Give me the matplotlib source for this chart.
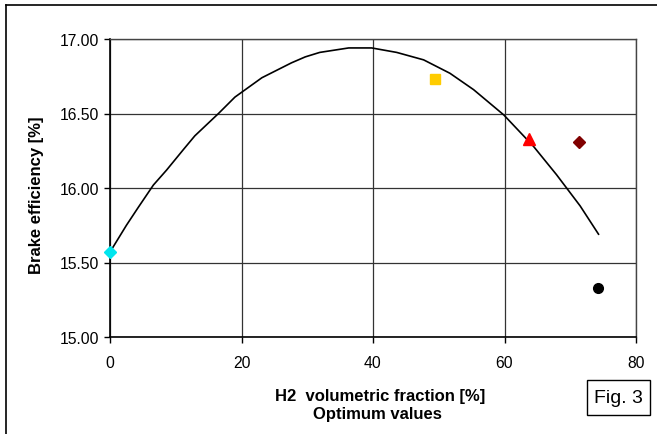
import matplotlib
matplotlib.use("Agg")
import matplotlib.pyplot as plt
from matplotlib.lines import Line2D
from matplotlib.patches import Rectangle

plt.rcParams['font.family'] = ['Liberation Sans', 'DejaVu Sans']

# Curve: brake efficiency vs H2 volumetric fraction
curve_x = [0, 2.5, 4.3, 6.6, 8.6, 11.2, 12.9, 16.5, 19.0, 23.1, 27.6, 29.7, 31.9,
           36.3, 39.8, 43.6, 47.7, 51.7, 55.3, 59.9, 64.4, 67.9, 71.5, 74.3]
curve_y = [15.57, 15.75, 15.87, 16.02, 16.12, 16.26, 16.35, 16.50, 16.61, 16.74, 16.84,
           16.88, 16.91, 16.94, 16.94, 16.91, 16.86, 16.77, 16.66, 16.49, 16.28, 16.09,
           15.88, 15.69]

# Optimum points
pt_x = [0, 49.5, 63.8, 71.3, 74.2]
pt_y = [15.57, 16.73, 16.33, 16.31, 15.33]
pt_colors = ['#00E5EE', '#FFCC00', '#FF0000', '#800000', '#000000']
pt_markers = ['D', 's', '^', 'D', 'o']
pt_sizes = [6, 7, 8, 6, 7]

xticks = [0, 20, 40, 60, 80]
yticks = [15.00, 15.50, 16.00, 16.50, 17.00]

fig = plt.figure(figsize=(6.57, 4.35), dpi=100)
ax = fig.add_axes([110/657, 1-338/435, 526/657, 298/435])

ax.plot(curve_x, curve_y, color='black', lw=1.2, zorder=3)
for x, y, c, m, s in zip(pt_x, pt_y, pt_colors, pt_markers, pt_sizes):
    ax.plot([x], [y], marker=m, color=c, markersize=s, linestyle='none', zorder=4,
            clip_on=False)

ax.set_xlim(0, 80)
ax.set_ylim(15.0, 17.0)
ax.set_xticks(xticks)
ax.set_yticks(yticks)
ax.set_yticklabels([f"{v:.2f}" for v in yticks])
ax.grid(True, color='#333333', lw=0.9)
ax.set_axisbelow(True)
ax.tick_params(direction='out', length=4, width=1, labelsize=11.3, colors='black')
ax.tick_params(axis='x', pad=9)
ax.tick_params(axis='y', pad=4)
for s in ['left', 'bottom']:
    ax.spines[s].set_color('black')
    ax.spines[s].set_linewidth(1.2)
for s in ['top', 'right']:
    ax.spines[s].set_color('#444444')
    ax.spines[s].set_linewidth(1.0)

fig.text(37/657, 1-195/435, 'Brake efficiency [%]', rotation=90, ha='center', va='center',
         fontsize=12, fontweight='bold')
fig.text(380/657, 1-397/435, 'H2  volumetric fraction [%]', ha='center', va='center',
         fontsize=12, fontweight='bold')
fig.text(377/657, 1-415/435, 'Optimum values', ha='center', va='center',
         fontsize=12, fontweight='bold')

# Fig. 3 box
fig.text(618/657, 1-398.5/435, 'Fig. 3', ha='center', va='center', fontsize=14)
fig.add_artist(Rectangle((586.5/657, 1-416/435), 63/657, 35/435, transform=fig.transFigure,
                         fill=False, edgecolor='black', lw=1.0))

# outer frame lines
fig.add_artist(Line2D([6/657, 6/657], [0, 1-6/435], transform=fig.transFigure, color='black', lw=1.2))
fig.add_artist(Line2D([6/657, 1], [1-6/435, 1-6/435], transform=fig.transFigure, color='black', lw=1.2))

fig.savefig('out.png', dpi=100)
